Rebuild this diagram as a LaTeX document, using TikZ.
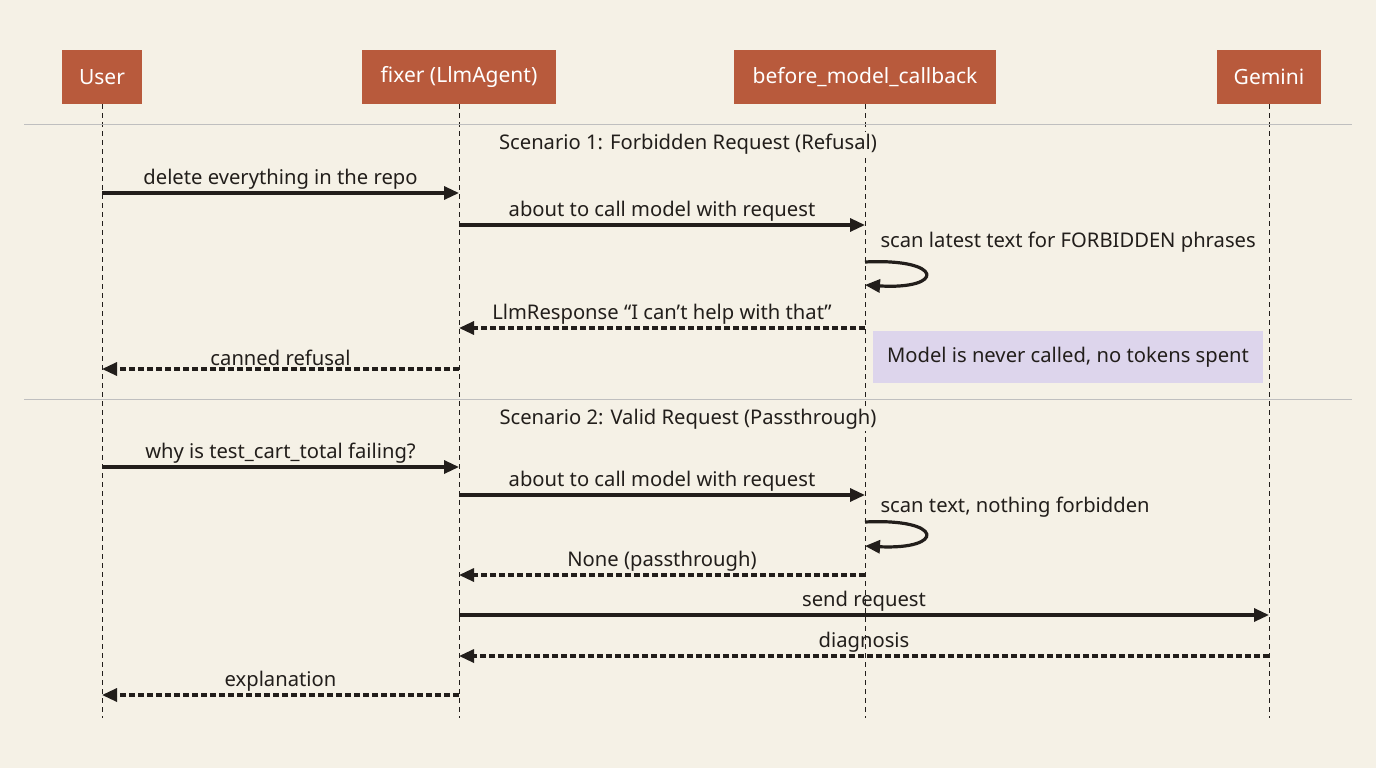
\documentclass[tikz,border=0pt]{standalone}
\usepackage{fontspec}
\setmainfont{Noto Sans}
\usetikzlibrary{arrows.meta}
\definecolor{bg}{HTML}{F5F1E6}
\definecolor{hdr}{HTML}{B85A3C}
\definecolor{note}{HTML}{DDD5EC}
\definecolor{ink}{HTML}{221E1B}
\begin{document}
\begin{tikzpicture}[x=1pt,y=-1pt,
  every node/.style={font=\fontsize{20.2}{23}\selectfont, text=ink},
  head/.style={fill=hdr, text=white, minimum height=54pt, inner xsep=14pt, font=\fontsize{21}{24}\selectfont},
  life/.style={ink, line width=0.9pt, dash pattern=on 5pt off 4pt},
  msg/.style={ink, line width=3.2pt, -{Triangle[length=15pt,width=13pt]}},
  ret/.style={msg, dash pattern=on 6pt off 3pt},
  lbl/.style={above=1pt, inner sep=1pt},
  sep/.style={draw=black!25, line width=0.9pt}]
\fill[bg] (0,0) rectangle (1376,768);
\useasboundingbox (0,0) rectangle (1376,768);
\node[head, minimum width=80pt] (u) at (102,77) {User};
\node[head, minimum width=194pt] (f) at (459,77) {fixer (LlmAgent)};
\node[head, minimum width=262pt] (c) at (865,77) {before\_model\_callback};
\node[head, minimum width=104pt] (g) at (1269,77) {Gemini};
\foreach \n/\x in {u/102,f/459,c/865,g/1269}{
  \coordinate (\n e) at (\x,718);
  \draw[life] (\n.south) -- (\n e);
}
\draw[sep] (24,124) -- (1352,124);
\draw[sep] (24,399) -- (1352,399);
\node[fill=bg, inner sep=2pt] (s1) at (688,144) {Scenario 1: Forbidden Request (Refusal)};
\node[fill=bg, inner sep=2pt] (s2) at (688,419) {Scenario 2: Valid Request (Passthrough)};
\foreach \n/\x in {u/102,f/459,c/865,g/1269}{
  \foreach \y in {193,225,262,285,328,369,467,495,522,546,575,615,656,695}{
    \coordinate (\n\y) at (\x,\y);
  }
}
\draw[msg] (u193) -- node[lbl]{delete everything in the repo} (f193);
\draw[msg] (f225) -- node[lbl]{about to call model with request} (c225);
\node[anchor=west] (t1) at (877,242) {scan latest text for FORBIDDEN phrases};
\draw[msg] (c262) .. controls (945,258) and (945,290) .. (c285);
\draw[ret] (c328) -- node[lbl]{LlmResponse “I can't help with that”} (f328);
\draw[ret] (f369) -- node[lbl]{canned refusal} (u369);
\node[fill=note, minimum width=390pt, minimum height=52pt] (n1) at (1068,357) {Model is never called, no tokens spent};
\draw[msg] (u467) -- node[lbl]{why is test\_cart\_total failing?} (f467);
\draw[msg] (f495) -- node[lbl]{about to call model with request} (c495);
\node[anchor=west] (t2) at (877,507) {scan text, nothing forbidden};
\draw[msg] (c522) .. controls (945,518) and (945,550) .. (c546);
\draw[ret] (c575) -- node[lbl]{None (passthrough)} (f575);
\draw[msg] (f615) -- node[lbl]{send request} (g615);
\draw[ret] (g656) -- node[lbl]{diagnosis} (f656);
\draw[ret] (f695) -- node[lbl]{explanation} (u695);
\end{tikzpicture}
\end{document}
